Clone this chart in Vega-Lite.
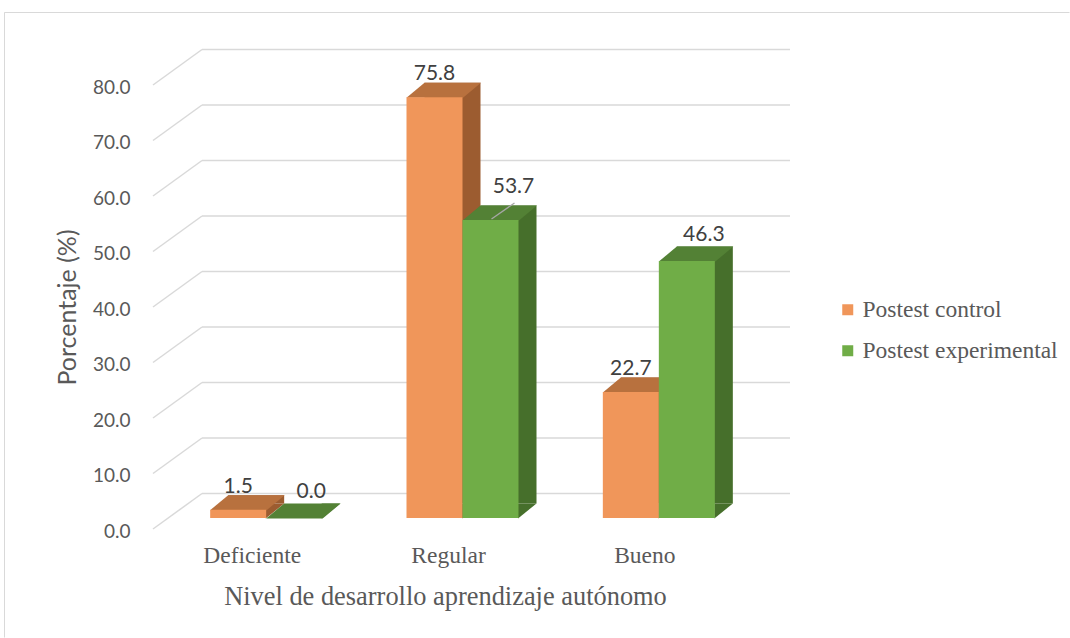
{
  "$schema": "https://vega.github.io/schema/vega-lite/v6.json",
  "width": 1065,
  "height": 625,
  "autosize": {"type": "none"},
  "padding": {"left": 4, "top": 12, "right": 1, "bottom": 1},
  "background": "#FFFFFF",
  "datasets": {
    "niveles": [
      {"nivel": "Deficiente", "grupo": "Postest control", "pct": 1.5},
      {"nivel": "Deficiente", "grupo": "Postest experimental", "pct": 0.0},
      {"nivel": "Regular", "grupo": "Postest control", "pct": 75.8},
      {"nivel": "Regular", "grupo": "Postest experimental", "pct": 53.7},
      {"nivel": "Bueno", "grupo": "Postest control", "pct": 22.7},
      {"nivel": "Bueno", "grupo": "Postest experimental", "pct": 46.3}
    ],
    "escala": [
      {"v": 0}, {"v": 10}, {"v": 20}, {"v": 30}, {"v": 40},
      {"v": 50}, {"v": 60}, {"v": 70}, {"v": 80}
    ]
  },
  "data": {"name": "niveles"},
  "config": {
    "view": {"stroke": "#D9D9D9", "strokeWidth": 1, "strokeDash": [1065, 1690, 625]},
    "axisX": {
      "offset": -97, "domain": false, "ticks": false, "grid": false,
      "labelPadding": 3, "labelAngle": 0, "labelOffset": -14,
      "labelFont": "Liberation Serif", "labelFontSize": 23.5, "labelColor": "#595959",
      "titleFont": "Liberation Serif", "titleFontSize": 26.4, "titleFontWeight": "normal",
      "titleColor": "#595959", "titleX": 441, "titleY": 56, "titleBaseline": "middle"
    },
    "axisY": {
      "offset": -126, "domain": false, "ticks": false, "grid": false,
      "labelPadding": 0, "labelOffset": 13,
      "labelFont": "Lato", "labelFontSize": 19, "labelColor": "#595959",
      "titleFont": "Lato", "titleFontSize": 25, "titleFontWeight": "normal",
      "titleColor": "#595959", "titleX": -63, "titleY": 295, "titleBaseline": "middle"
    }
  },
  "layer": [
    {
      "data": {"name": "escala"},
      "mark": {"type": "rule", "color": "#D9D9D9", "strokeWidth": 1.5, "xOffset": 34, "x2Offset": 33, "yOffset": -24.5},
      "encoding": {
        "x": {"datum": "Deficiente", "type": "nominal", "bandPosition": 0,
              "scale": {"domain": ["Deficiente", "Regular", "Bueno"], "range": [164, 753], "paddingInner": 0, "paddingOuter": 0},
              "title": "Nivel de desarrollo aprendizaje autónomo"},
        "x2": {"datum": "Bueno", "bandPosition": 1},
        "y": {"field": "v", "type": "quantitative", "title": "Porcentaje (%)",
              "scale": {"domain": [0, 80], "range": [506, 62], "nice": false, "zero": true}}
      }
    },
    {
      "data": {"name": "escala"},
      "mark": {"type": "rule", "color": "#D9D9D9", "strokeWidth": 1.5, "xOffset": -15, "x2Offset": 34, "yOffset": 11, "y2Offset": -24.5},
      "encoding": {
        "x": {"datum": "Deficiente", "type": "nominal", "bandPosition": 0, "title": "Nivel de desarrollo aprendizaje autónomo"},
        "x2": {"datum": "Deficiente", "bandPosition": 0},
        "y": {"field": "v", "type": "quantitative", "title": "Porcentaje (%)"},
        "y2": {"field": "v"}
      }
    },
    {
      "transform": [{"filter": "datum.grupo === 'Postest control'"}],
      "mark": {"type": "bar", "width": 56, "xOffset": -10, "yOffset": -14.5, "y2Offset": -14.5, "fill": "#9C5C30"},
      "encoding": {
        "x": {"field": "nivel", "type": "nominal", "title": "Nivel de desarrollo aprendizaje autónomo"},
        "y": {"field": "pct", "type": "quantitative", "title": "Porcentaje (%)"}
      }
    },
    {
      "transform": [{"filter": "datum.grupo === 'Postest experimental'"}],
      "mark": {"type": "bar", "width": 56, "xOffset": 46, "yOffset": -14.5, "y2Offset": -14.5, "fill": "#466F2B"},
      "encoding": {
        "x": {"field": "nivel", "type": "nominal", "title": "Nivel de desarrollo aprendizaje autónomo"},
        "y": {"field": "pct", "type": "quantitative", "title": "Porcentaje (%)"}
      }
    },
    {
      "mark": {"type": "point", "shape": "M27.5,0.5L46,-14.5L27.5,-14.5Z", "size": 4, "filled": true, "strokeWidth": 0, "opacity": 1},
      "encoding": {
        "x": {"field": "nivel", "type": "nominal", "title": "Nivel de desarrollo aprendizaje autónomo"},
        "xOffset": {"field": "grupo", "type": "nominal",
                    "scale": {"domain": ["Postest control", "Postest experimental"], "paddingInner": 0, "paddingOuter": 0.753}},
        "y": {"datum": 0, "type": "quantitative"},
        "fill": {"condition": {"test": "datum.grupo === 'Postest control'", "value": "#9C5C30"}, "value": "#466F2B"}
      }
    },
    {
      "mark": {"type": "point", "shape": "M-28,0.5L28.5,0.5L46.5,-14.5L-10,-14.5Z", "size": 4, "filled": true, "strokeWidth": 0, "opacity": 1},
      "encoding": {
        "x": {"field": "nivel", "type": "nominal", "title": "Nivel de desarrollo aprendizaje autónomo"},
        "xOffset": {"field": "grupo", "type": "nominal"},
        "y": {"field": "pct", "type": "quantitative", "title": "Porcentaje (%)"},
        "fill": {"condition": {"test": "datum.grupo === 'Postest control'", "value": "#B8713E"}, "value": "#538135"}
      }
    },
    {
      "mark": {"type": "bar"},
      "encoding": {
        "x": {"field": "nivel", "type": "nominal", "title": "Nivel de desarrollo aprendizaje autónomo"},
        "xOffset": {"field": "grupo", "type": "nominal"},
        "y": {"field": "pct", "type": "quantitative", "title": "Porcentaje (%)",
              "axis": {"values": [0, 10, 20, 30, 40, 50, 60, 70, 80], "format": ".1f"}},
        "color": {
          "field": "grupo", "type": "nominal",
          "scale": {"domain": ["Postest control", "Postest experimental"], "range": ["#F0965A", "#70AD47"]},
          "legend": {
            "title": null, "orient": "none", "legendX": 832, "legendY": 286, "padding": 0,
            "symbolType": "square", "symbolSize": 121, "symbolStrokeWidth": 0,
            "labelFont": "Liberation Serif", "labelFontSize": 23.5, "labelColor": "#595959",
            "labelOffset": 3, "labelLimit": 400, "rowPadding": 16
          }
        }
      }
    },
    {
      "transform": [{"filter": "datum.grupo === 'Postest control'"}],
      "mark": {"type": "text", "font": "Lato", "fontSize": 21, "color": "#404040", "dy": -23, "baseline": "middle"},
      "encoding": {
        "x": {"field": "nivel", "type": "nominal", "title": "Nivel de desarrollo aprendizaje autónomo"},
        "xOffset": {"field": "grupo", "type": "nominal"},
        "y": {"field": "pct", "type": "quantitative", "title": "Porcentaje (%)"},
        "text": {"field": "pct", "type": "quantitative", "format": ".1f"}
      }
    },
    {
      "transform": [{"filter": "datum.grupo === 'Postest experimental' && datum.nivel !== 'Regular'"}],
      "mark": {"type": "text", "font": "Lato", "fontSize": 21, "color": "#404040", "dx": 17, "dy": -26, "baseline": "middle"},
      "encoding": {
        "x": {"field": "nivel", "type": "nominal", "title": "Nivel de desarrollo aprendizaje autónomo"},
        "xOffset": {"field": "grupo", "type": "nominal"},
        "y": {"field": "pct", "type": "quantitative", "title": "Porcentaje (%)"},
        "text": {"field": "pct", "type": "quantitative", "format": ".1f"}
      }
    },
    {
      "transform": [{"filter": "datum.grupo === 'Postest experimental' && datum.nivel === 'Regular'"}],
      "mark": {"type": "text", "font": "Lato", "fontSize": 21, "color": "#404040", "dx": 23, "dy": -33, "baseline": "middle"},
      "encoding": {
        "x": {"field": "nivel", "type": "nominal", "title": "Nivel de desarrollo aprendizaje autónomo"},
        "xOffset": {"field": "grupo", "type": "nominal"},
        "y": {"field": "pct", "type": "quantitative", "title": "Porcentaje (%)"},
        "text": {"field": "pct", "type": "quantitative", "format": ".1f"}
      }
    },
    {
      "transform": [{"filter": "datum.grupo === 'Postest experimental' && datum.nivel === 'Regular'"}],
      "mark": {"type": "point", "shape": "M1,-1L24,-17", "size": 4, "filled": false, "stroke": "#A6A6A6", "strokeWidth": 1.3, "opacity": 1},
      "encoding": {
        "x": {"field": "nivel", "type": "nominal", "title": "Nivel de desarrollo aprendizaje autónomo"},
        "xOffset": {"field": "grupo", "type": "nominal"},
        "y": {"field": "pct", "type": "quantitative", "title": "Porcentaje (%)"}
      }
    }
  ]
}
